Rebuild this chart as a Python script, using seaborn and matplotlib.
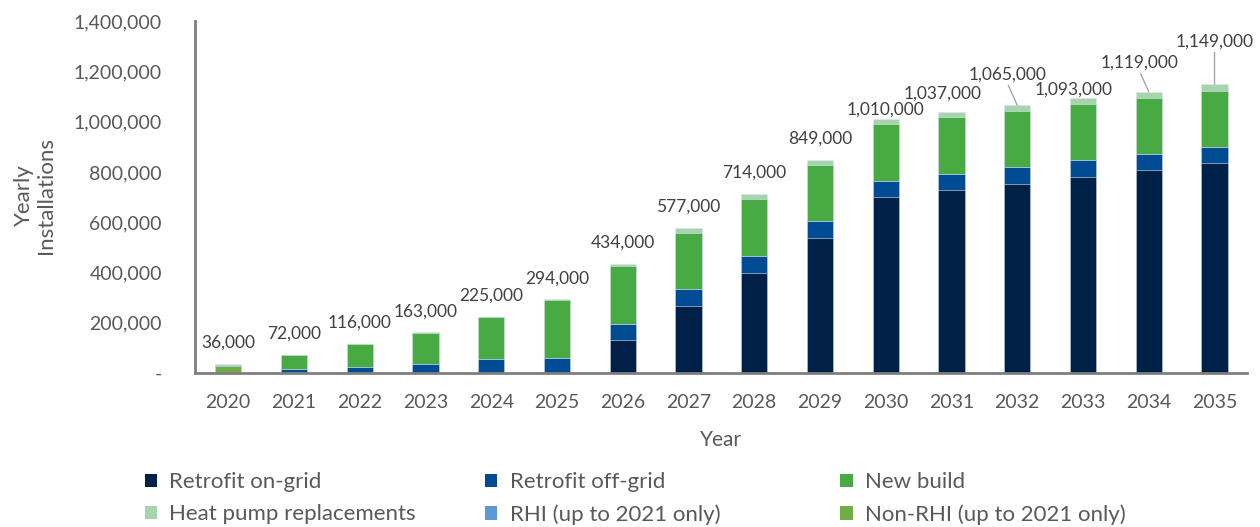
import numpy as np
import pandas as pd
import matplotlib
matplotlib.use('Agg')
import matplotlib.pyplot as plt
import seaborn as sns
from matplotlib.patches import Patch
from matplotlib.ticker import FuncFormatter

# data
years = [str(y) for y in range(2020, 2036)]
retrofit_on_grid = [0, 0, 0, 0, 0, 0, 132000, 266000, 400000, 537000,
                    700000, 728000, 752000, 781000, 807000, 836000]
retrofit_off_grid = [0, 18000, 25000, 37000, 56000, 61000, 64000, 67000, 67000, 66000,
                     64000, 62000, 66000, 65000, 65000, 65000]
non_rhi = [27000, 0, 0, 0, 0, 0, 0, 0, 0, 0, 0, 0, 0, 0, 0, 0]
rhi = [6000, 0, 0, 0, 0, 0, 0, 0, 0, 0, 0, 0, 0, 0, 0, 0]
new_build = [0, 53000, 89000, 124000, 166000, 229000, 230000, 225000, 226000, 224000,
             225000, 227000, 224000, 223000, 224000, 222000]
hp_replacements = [3000, 1000, 2000, 2000, 3000, 4000, 8000, 19000, 21000, 22000,
                   21000, 20000, 23000, 24000, 23000, 26000]
totals = [36000, 72000, 116000, 163000, 225000, 294000, 434000, 577000, 714000, 849000,
          1010000, 1037000, 1065000, 1093000, 1119000, 1149000]

series = [
    ('Retrofit on-grid', retrofit_on_grid, '#002147'),
    ('Retrofit off-grid', retrofit_off_grid, '#004C94'),
    ('Non-RHI (up to 2021 only)', non_rhi, '#70AD47'),
    ('RHI (up to 2021 only)', rhi, '#5B9BD5'),
    ('New build', new_build, '#47AA42'),
    ('Heat pump replacements', hp_replacements, '#A6D4AE'),
]

df = pd.DataFrame({'Year': years})
running = np.zeros(len(years))
for name, vals, _ in series:
    running = running + np.array(vals)
    df[name] = running

sns.set_style('white')
plt.rcParams['font.family'] = ['Lato', 'DejaVu Sans']
TXT = '#595959'

fig = plt.figure(figsize=(12.6, 5.27), dpi=100)
ax = fig.add_axes([0.155, 0.292, 0.835, 0.668])

# stacked bars: draw cumulative sums from the top layer down
for name, _, color in reversed(series):
    sns.barplot(data=df, x='Year', y=name, color=color, width=0.4,
                saturation=1, edgecolor='#dfe6ee', linewidth=0.4, ax=ax)

ax.set_xlim(-0.5, 15.5)
ax.set_ylim(0, 1400000)
ax.set_yticks(np.arange(0, 1400001, 200000))
ax.yaxis.set_major_formatter(FuncFormatter(lambda v, p: '-' if v == 0 else f'{int(v):,}'))
ax.tick_params(axis='both', length=0, labelsize=14, labelcolor=TXT)
ax.tick_params(axis='y', pad=24)
ax.tick_params(axis='x', pad=15)
for s in ['top', 'right']:
    ax.spines[s].set_visible(False)
for s in ['left', 'bottom']:
    ax.spines[s].set_color('#7f7f7f')
    ax.spines[s].set_linewidth(2)
ax.set_ylabel('')
ax.set_xlabel('Year', fontsize=15, color=TXT, labelpad=14)
fig.text(0.028, 1 - 195 / 527, 'Yearly\nInstallations', rotation=90, ha='center',
         va='center', fontsize=16, color=TXT, linespacing=1.15)

# total labels (offset in pixels, some with leader lines)
offsets = {10: (0, 10), 11: (-9, 19), 12: (-10, 31), 13: (-9, 9), 14: (-9, 29), 15: (0, 43)}
leaders = {12, 14, 15}
for i, t in enumerate(totals):
    dx, dy = offsets.get(i, (0, 21))
    ax.annotate(f'{t:,}', xy=(i, t), xytext=(dx, dy), textcoords='offset pixels',
                ha='center', va='center', fontsize=12.5, color='#404040')
    if i in leaders:
        ax.annotate('', xy=(i, t), xytext=(dx * 0.9, dy - 11), textcoords='offset pixels',
                    arrowprops=dict(arrowstyle='-', color='#a6a6a6', lw=1, shrinkA=0, shrinkB=0))

# legend in three columns
cols = [
    (0.115, [('Retrofit on-grid', '#002147'), ('Heat pump replacements', '#A6D4AE')]),
    (0.385, [('Retrofit off-grid', '#004C94'), ('RHI (up to 2021 only)', '#5B9BD5')]),
    (0.667, [('New build', '#47AA42'), ('Non-RHI (up to 2021 only)', '#70AD47')]),
]
for x0, items in cols:
    handles = [Patch(facecolor=c, edgecolor='none', label=l) for l, c in items]
    fig.legend(handles=handles, loc='upper left', bbox_to_anchor=(x0, 0.104),
               frameon=False, fontsize=16, labelcolor=TXT, handlelength=0.55,
               handleheight=0.55, handletextpad=0.55, labelspacing=0.55,
               borderaxespad=0, borderpad=0)

fig.savefig('out.png', dpi=100)
